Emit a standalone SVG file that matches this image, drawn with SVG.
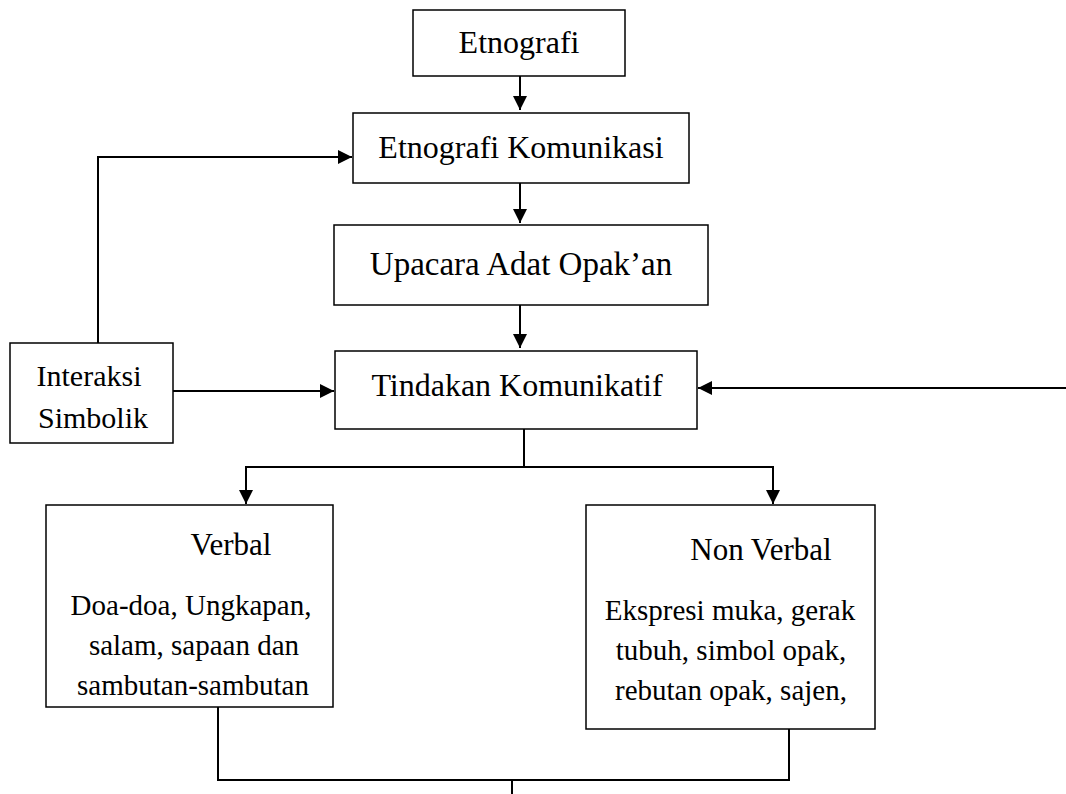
<svg xmlns="http://www.w3.org/2000/svg" width="1066" height="794" viewBox="0 0 1066 794">
<style>
.box{fill:#fff;stroke:#000;stroke-width:1.5}
.t{font-family:'Liberation Serif','Times New Roman',Times,serif;font-size:31px;fill:#000;text-anchor:middle}
.b{font-size:29px}
.c{fill:none;stroke:#000;stroke-width:2}
</style>
<defs>
<marker id="ah" viewBox="0 0 14 14" refX="14" refY="7" markerWidth="14" markerHeight="14" markerUnits="userSpaceOnUse" orient="auto">
<path d="M0,0 L14,7 L0,14 Z" fill="#000"/>
</marker>
</defs>
<rect width="1066" height="794" fill="#fff"/>
<g id="connectors">
<line class="c" x1="520" y1="76" x2="520" y2="110" marker-end="url(#ah)"/>
<line class="c" x1="520" y1="183" x2="520" y2="223" marker-end="url(#ah)"/>
<line class="c" x1="520" y1="305" x2="520" y2="348" marker-end="url(#ah)"/>
<polyline class="c" points="98,343 98,157 352,157" marker-end="url(#ah)"/>
<line class="c" x1="173" y1="391" x2="334" y2="391" marker-end="url(#ah)"/>
<line class="c" x1="1066" y1="388" x2="698" y2="388" marker-end="url(#ah)"/>
<line class="c" x1="524" y1="429" x2="524" y2="467"/>
<line class="c" x1="245" y1="467" x2="774" y2="467"/>
<line class="c" x1="246" y1="466" x2="246" y2="504" marker-end="url(#ah)"/>
<line class="c" x1="773" y1="466" x2="773" y2="504" marker-end="url(#ah)"/>
<polyline class="c" points="218,707 218,780 789,780 789,729"/>
<line class="c" x1="512" y1="780" x2="512" y2="794"/>
</g>
<g id="etnografi"><rect class="box" x="413" y="10" width="212" height="66"/><text class="t" x="519" y="53" style="font-size:32px">Etnografi</text></g>
<g id="etnografi-komunikasi"><rect class="box" x="353" y="113" width="336" height="70"/><text class="t" x="521" y="158" style="font-size:32px">Etnografi Komunikasi</text></g>
<g id="upacara"><rect class="box" x="334" y="225" width="374" height="80"/><text class="t" x="521" y="275" style="font-size:33px">Upacara Adat Opak’an</text></g>
<g id="tindakan"><rect class="box" x="335" y="351" width="362" height="78"/><text class="t" x="517" y="396" style="font-size:32px">Tindakan Komunikatif</text></g>
<g id="interaksi"><rect class="box" x="10" y="343" width="163" height="100"/><text class="t" x="89" y="386" style="font-size:30px">Interaksi</text><text class="t" x="93" y="428" style="font-size:30px">Simbolik</text></g>
<g id="verbal"><rect class="box" x="46" y="505" width="287" height="202"/><text class="t" x="231" y="555">Verbal</text><text class="t b" x="191" y="615">Doa-doa, Ungkapan,</text><text class="t b" x="194" y="655">salam, sapaan dan</text><text class="t b" x="193" y="695">sambutan-sambutan</text></g>
<g id="non-verbal"><rect class="box" x="586" y="505" width="289" height="224"/><text class="t" x="761" y="560">Non Verbal</text><text class="t b" x="730" y="620">Ekspresi muka, gerak</text><text class="t b" x="731" y="660">tubuh, simbol opak,</text><text class="t b" x="731" y="700">rebutan opak, sajen,</text></g>
</svg>
